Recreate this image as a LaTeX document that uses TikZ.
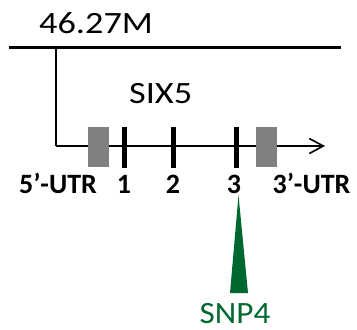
\documentclass[tikz,border=0pt]{standalone}
\usepackage{fontspec}
\setmainfont{Carlito}
\usetikzlibrary{arrows.meta}
\definecolor{snpgreen}{RGB}{0,104,48}
\definecolor{utrgray}{RGB}{128,128,128}
\tikzset{
  x=1pt, y=-1pt,
  chrom/.style={line width=3.5pt},
  strand/.style={line width=1.6pt},
  utrbox/.style={fill=utrgray, draw=none},
  exonbar/.style={line width=5pt},
  lbl/.style={font=\fontsize{28}{30}\selectfont\bfseries, inner sep=0pt, anchor=base},
  title/.style={font=\fontsize{31}{33}\selectfont, inner sep=0pt, anchor=base west},
}
\begin{document}
\begin{tikzpicture}
\useasboundingbox (0,0) rectangle (357,330);
% chromosome line and its position label
\coordinate (cl) at (9,47.5);
\coordinate (cr) at (341,47.5);
\draw[chrom] (cl) -- (cr);
\node[title] (pos) at (39,33) {\scalebox{1.17}[1]{46.27M}};
% transcription start and gene strand
\coordinate (tss) at (56,47.5);
\coordinate (bend) at (56,146);
\coordinate (tip) at (325,146);
\draw[strand] (tss) -- (bend);
\draw[strand, -{Straight Barb[length=14pt, width=15pt, line width=1.6pt]}] (bend) -- (tip);
\node[title] (gene) at (129,103) {\scalebox{1.17}[1]{SIX5}};
% UTRs and exons
\fill[utrbox] (88.3,126.7) rectangle (109.3,167);
\fill[utrbox] (256,126.7) rectangle (277,167);
\draw[exonbar] (124,126.7) -- (124,168);
\draw[exonbar] (173,126.7) -- (173,168);
\draw[exonbar] (236,126.7) -- (236,168);
% labels under the strand
\node[lbl] (u5) at (58,193.5) {5’-UTR};
\node[lbl] (e1) at (124,193.5) {1};
\node[lbl] (e2) at (173,193.5) {2};
\node[lbl] (e3) at (234,193.5) {3};
\node[lbl] (u3) at (311.5,193.5) {3’-UTR};
% SNP marker
\coordinate (apex) at (238.5,195);
\fill[snpgreen] (apex) -- (230,293) -- (248,293) -- cycle;
\node[title, text=snpgreen, anchor=base] (snp) at (235,323.5) {\scalebox{1.07}[1]{SNP4}};
\end{tikzpicture}
\end{document}
